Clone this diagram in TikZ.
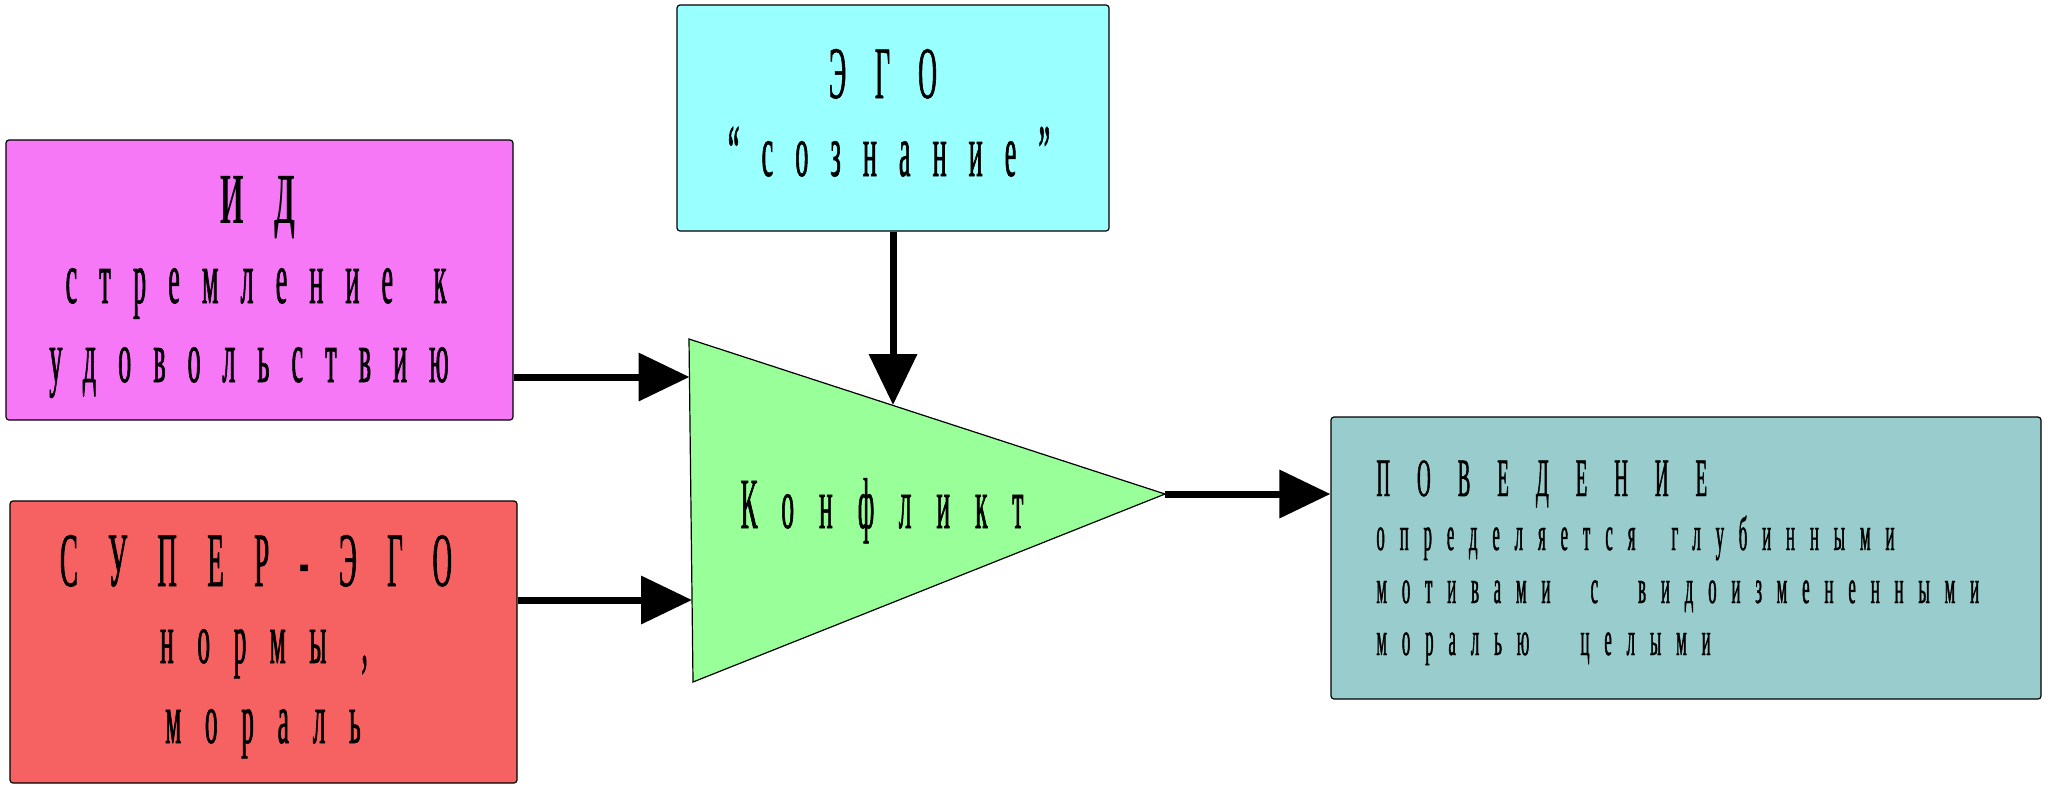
\documentclass[tikz,border=0pt]{standalone}
\usepackage{fontspec}
\setmainfont{Liberation Serif}
\newfontfamily\cf[FakeStretch=0.35,FakeBold=0.8]{Liberation Serif}
\newfontfamily\cfb[FakeStretch=0.42]{Liberation Serif}
\usetikzlibrary{arrows.meta}
\newcommand{\lsp}[2]{{\addfontfeature{LetterSpace=#1}#2}}
\definecolor{cid}{RGB}{246,120,246}
\definecolor{csup}{RGB}{246,98,98}
\definecolor{cego}{RGB}{153,255,255}
\definecolor{ctri}{RGB}{153,255,153}
\definecolor{cbeh}{RGB}{153,204,204}
\tikzset{
  box/.style={draw=black, line width=0.6pt, rounded corners=1.5pt, inner sep=0pt},
  txt/.style={inner sep=0pt, anchor=base},
  txtl/.style={inner sep=0pt, anchor=base west},
  big/.style={font=\cf\fontsize{37pt}{40pt}\selectfont},
  small/.style={font=\cf\fontsize{24pt}{28pt}\selectfont},
  arr/.style={line width=3.5pt, -{Triangle[width=23.5pt,length=25.5pt]}}
}
\begin{document}
\begin{tikzpicture}[x=0.5pt,y=-0.5pt]
\useasboundingbox (0,0) rectangle (2048,789);
% boxes
\node[box, fill=cid, minimum width=253.5pt, minimum height=140pt] (id) at (259.5,280) {};
\node[box, fill=csup, minimum width=253.5pt, minimum height=141pt] (sup) at (263.5,642) {};
\node[box, fill=cego, minimum width=216pt, minimum height=113pt] (ego) at (893,118) {};
\node[box, fill=cbeh, minimum width=355pt, minimum height=141pt] (beh) at (1686,558) {};
% triangle
\coordinate (tA) at (689,339);
\coordinate (tip) at (1165,494);
\coordinate (tB) at (693,682);
\draw[fill=ctri, line width=0.6pt] (tA) -- (tip) -- (tB) -- cycle;
\coordinate (inA) at (689.5,377);
\coordinate (inB) at (692,600);
\coordinate (inC) at (893,405);
% texts
\node[txt, font=\cfb\bfseries\fontsize{36pt}{40pt}\selectfont] (idt1) at (258,223) {\lsp{42}{ИД}};
\node[txt, big] (idt2) at (256,303) {\lsp{30}{стремление\hspace{6pt} к}};
\node[txt, big] (idt3) at (249,382) {\lsp{30}{удовольствию}};
\node[txt, font=\cf\fontsize{38.5pt}{40pt}\selectfont] (supt1) at (256,586) {\lsp{39.5}{СУПЕР-ЭГО}};
\node[txt, font=\cf\fontsize{36pt}{40pt}\selectfont] (supt2) at (264,663) {\lsp{33}{нормы\hspace{2.5pt} ,}};
\node[txt, font=\cf\fontsize{36pt}{40pt}\selectfont] (supt3) at (263,743) {\lsp{33}{мораль}};
\node[txt, big] (egot1) at (883,98) {\lsp{39}{ЭГО}};
\node[txt, big] (egot2) at (889,176) {\lsp{30}{“сознание”}};
\node[txt, font=\cf\fontsize{36pt}{40pt}\selectfont] (tri) at (882,528) {\lsp{35}{Конфликт}};
\node[txtl, font=\cf\fontsize{27pt}{30pt}\selectfont] (beht1) at (1376,496) {\lsp{50}{ПОВЕДЕНИЕ}};
\node[txtl, small] (beht2) at (1376,550) {\lsp{31}{определяется\hspace{8.5pt} глубинными}};
\node[txtl, small] (beht3) at (1376,603) {\lsp{31}{мотивами\hspace{10.5pt} с\hspace{10.5pt} видоизмененными}};
\node[txtl, small] (beht4) at (1376,655) {\lsp{31}{моралью\ \ \hspace{6.5pt}целыми}};
% arrows
\draw[arr] (id.east |- inA) -- (inA);
\draw[arr] (sup.east |- inB) -- (inB);
\draw[arr] (ego.south) -- (inC);
\draw[arr] (tip) -- (beh.west |- tip);
\end{tikzpicture}
\end{document}
